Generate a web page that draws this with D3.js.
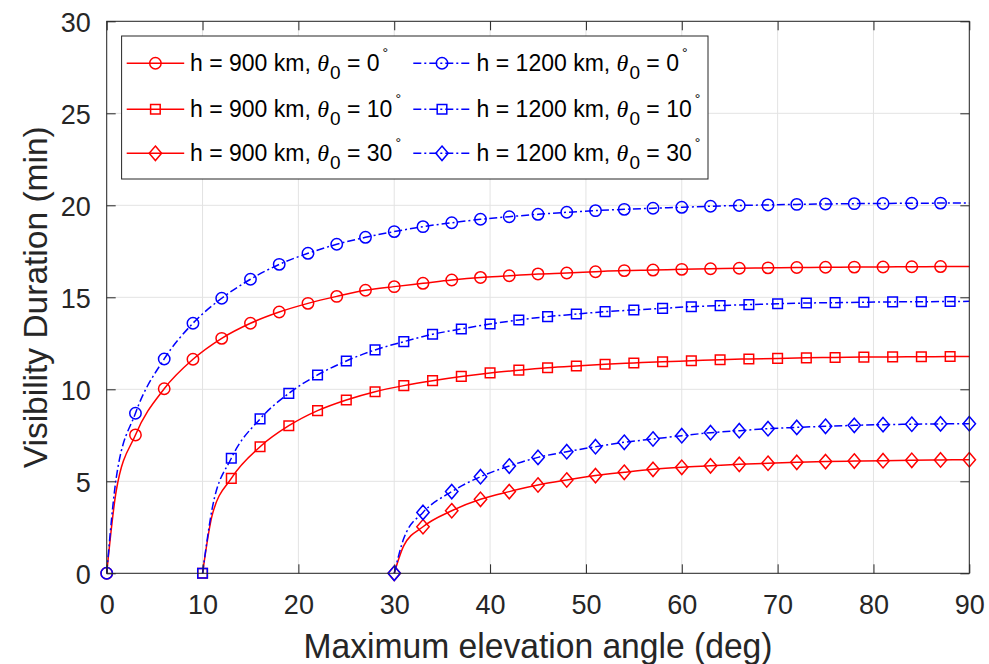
<!DOCTYPE html>
<html>
<head>
<meta charset="utf-8">
<script src="https://cdn.jsdelivr.net/npm/d3@7"></script>
<style>
  html, body { margin: 0; padding: 0; background: #fff; }
  svg { display: block; }
  text { font-family: "Liberation Sans", Arial, Helvetica, sans-serif; fill: #262626; }
</style>
</head>
<body>
<svg id="chart" width="989" height="664"></svg>
<script>
// Maximum elevation angle samples (deg) for each minimum elevation θ0
const anglesT0  = [0, 1, 3, 6, 9, 12, 15, 18, 21, 24, 27, 30, 33, 36, 39, 42, 45, 48, 51, 54, 57, 60, 63, 66, 69, 72, 75, 78, 81, 84, 87, 90];
const anglesT10 = [10, 11, 13, 16, 19, 22, 25, 28, 31, 34, 37, 40, 43, 46, 49, 52, 55, 58, 61, 64, 67, 70, 73, 76, 79, 82, 85, 88, 90];
const anglesT30 = [30, 31, 33, 36, 39, 42, 45, 48, 51, 54, 57, 60, 63, 66, 69, 72, 75, 78, 81, 84, 87, 90];

// Angles that carry a marker
const markersT0  = [0, 3, 6, 9, 12, 15, 18, 21, 24, 27, 30, 33, 36, 39, 42, 45, 48, 51, 54, 57, 60, 63, 66, 69, 72, 75, 78, 81, 84, 87];
const markersT10 = [10, 13, 16, 19, 22, 25, 28, 31, 34, 37, 40, 43, 46, 49, 52, 55, 58, 61, 64, 67, 70, 73, 76, 79, 82, 85, 88];
const markersT30 = [30, 33, 36, 39, 42, 45, 48, 51, 54, 57, 60, 63, 66, 69, 72, 75, 78, 81, 84, 87, 90];

// Visibility duration (min)
const h900T0   = [0, 4.5, 7.52, 10.03, 11.63, 12.77, 13.59, 14.20, 14.67, 15.05, 15.38, 15.58, 15.76, 15.94, 16.08, 16.17, 16.27, 16.32, 16.39, 16.45, 16.48, 16.52, 16.55, 16.58, 16.60, 16.62, 16.63, 16.64, 16.65, 16.66, 16.67, 16.68];
const h900T10  = [0, 3.15, 5.16, 6.88, 8.02, 8.84, 9.42, 9.87, 10.20, 10.47, 10.70, 10.89, 11.04, 11.17, 11.27, 11.36, 11.43, 11.50, 11.55, 11.61, 11.65, 11.68, 11.71, 11.73, 11.75, 11.76, 11.77, 11.78, 11.78];
const h900T30  = [0, 1.5, 2.53, 3.40, 4.02, 4.44, 4.80, 5.07, 5.31, 5.49, 5.65, 5.76, 5.84, 5.92, 5.98, 6.03, 6.07, 6.10, 6.12, 6.14, 6.16, 6.17];
const h1200T0  = [0, 5.2, 8.70, 11.65, 13.59, 14.95, 15.98, 16.79, 17.39, 17.88, 18.26, 18.57, 18.84, 19.05, 19.24, 19.38, 19.51, 19.62, 19.71, 19.78, 19.84, 19.89, 19.95, 19.99, 20.02, 20.05, 20.07, 20.09, 20.10, 20.11, 20.12, 20.13];
const h1200T10 = [0, 3.5, 6.25, 8.39, 9.78, 10.78, 11.54, 12.14, 12.59, 12.99, 13.28, 13.55, 13.77, 13.95, 14.09, 14.22, 14.31, 14.40, 14.49, 14.55, 14.60, 14.65, 14.69, 14.71, 14.73, 14.75, 14.76, 14.77, 14.78];
const h1200T30 = [0, 1.9, 3.31, 4.44, 5.25, 5.83, 6.30, 6.61, 6.88, 7.12, 7.30, 7.48, 7.64, 7.75, 7.86, 7.93, 7.99, 8.04, 8.08, 8.10, 8.12, 8.13];

const xTicks = [0, 10, 20, 30, 40, 50, 60, 70, 80, 90];
const yTicks = [0, 5, 10, 15, 20, 25, 30];

const series = [
  { label: ["900", "0"],   angles: anglesT0,  marks: markersT0,  values: h900T0,   color: "#ff0000", dash: null,      symbol: "circle" },
  { label: ["900", "10"],  angles: anglesT10, marks: markersT10, values: h900T10,  color: "#ff0000", dash: null,      symbol: "square" },
  { label: ["900", "30"],  angles: anglesT30, marks: markersT30, values: h900T30,  color: "#ff0000", dash: null,      symbol: "diamond" },
  { label: ["1200", "0"],  angles: anglesT0,  marks: markersT0,  values: h1200T0,  color: "#0000ff", dash: "8,3,2,3", symbol: "circle" },
  { label: ["1200", "10"], angles: anglesT10, marks: markersT10, values: h1200T10, color: "#0000ff", dash: "8,3,2,3", symbol: "square" },
  { label: ["1200", "30"], angles: anglesT30, marks: markersT30, values: h1200T30, color: "#0000ff", dash: "8,3,2,3", symbol: "diamond" }
];

const svg = d3.select("#chart");
const plotL = 106.7, plotR = 969.3, plotT = 21.3, plotB = 573.3;
const x = d3.scaleLinear().domain([0, 90]).range([plotL, plotR]);
const y = d3.scaleLinear().domain([0, 30]).range([plotB, plotT]);

// grid
const grid = svg.append("g").attr("stroke", "#e3e3e3").attr("stroke-width", 1);
grid.selectAll("line.gx").data(xTicks).join("line").attr("class", "gx")
  .attr("x1", d => x(d)).attr("x2", d => x(d)).attr("y1", plotT).attr("y2", plotB);
grid.selectAll("line.gy").data(yTicks).join("line").attr("class", "gy")
  .attr("y1", d => y(d)).attr("y2", d => y(d)).attr("x1", plotL).attr("x2", plotR);

// marker shapes
function markerPath(symbol) {
  if (symbol === "circle") return "M5.7,0A5.7,5.7 0 1,1 -5.7,0A5.7,5.7 0 1,1 5.7,0Z";
  if (symbol === "square") return "M-4.8,-4.8H4.8V4.8H-4.8Z";
  return "M0,-7.2L6.2,0L0,7.2L-6.2,0Z";
}

const line = d3.line().x(d => x(d[0])).y(d => y(d[1])).curve(d3.curveMonotoneX);

const plot = svg.append("g");
series.forEach(s => {
  const pts = s.angles.map((a, i) => [a, s.values[i]]);
  const lookup = new Map(pts);
  plot.append("path").datum(pts)
    .attr("d", line)
    .attr("fill", "none")
    .attr("stroke", s.color)
    .attr("stroke-width", 1.5)
    .attr("stroke-dasharray", s.dash);
  plot.append("g").selectAll("path").data(s.marks.map(a => [a, lookup.get(a)])).join("path")
    .attr("transform", d => `translate(${x(d[0])},${y(d[1])})`)
    .attr("d", markerPath(s.symbol))
    .attr("fill", "none")
    .attr("stroke", s.color)
    .attr("stroke-width", 1.5);
});

// axes with inward ticks on all four sides
const tickLen = 9;
const axStyle = g => {
  g.select(".domain").remove();
  g.selectAll(".tick line").attr("stroke", "#262626");
};
svg.append("g").attr("transform", `translate(0,${plotB})`)
  .call(d3.axisBottom(x).tickValues(xTicks).tickSizeInner(-tickLen).tickSizeOuter(0).tickPadding(0))
  .call(axStyle)
  .call(g => g.selectAll(".tick text").attr("y", 40.7).attr("dy", null)
    .attr("font-size", 27).attr("fill", "#262626").style("font-family", '"Liberation Sans", Arial, sans-serif'));
svg.append("g").attr("transform", `translate(${plotL},0)`)
  .call(d3.axisLeft(y).tickValues(yTicks).tickSizeInner(-tickLen).tickSizeOuter(0).tickPadding(0))
  .call(axStyle)
  .call(g => g.selectAll(".tick text").attr("x", -16).attr("dy", 10.5)
    .attr("font-size", 27).attr("fill", "#262626").style("font-family", '"Liberation Sans", Arial, sans-serif'));
svg.append("g").attr("transform", `translate(0,${plotT})`)
  .call(d3.axisTop(x).tickValues(xTicks).tickSizeInner(-tickLen).tickSizeOuter(0).tickFormat(""))
  .call(axStyle);
svg.append("g").attr("transform", `translate(${plotR},0)`)
  .call(d3.axisRight(y).tickValues(yTicks).tickSizeInner(-tickLen).tickSizeOuter(0).tickFormat(""))
  .call(axStyle);

svg.append("rect")
  .attr("x", plotL).attr("y", plotT).attr("width", plotR - plotL).attr("height", plotB - plotT)
  .attr("fill", "none").attr("stroke", "#262626").attr("stroke-width", 1);

// axis titles
svg.append("text")
  .attr("x", (plotL + plotR) / 2).attr("y", 658)
  .attr("text-anchor", "middle").attr("font-size", 35)
  .attr("textLength", 469).attr("lengthAdjust", "spacingAndGlyphs")
  .text("Maximum elevation angle (deg)");
svg.append("text")
  .attr("transform", `translate(47,${(plotT + plotB) / 2}) rotate(-90)`)
  .attr("text-anchor", "middle").attr("font-size", 34)
  .attr("textLength", 342).attr("lengthAdjust", "spacingAndGlyphs")
  .text("Visibility Duration (min)");

// legend
const legend = svg.append("g");
legend.append("rect")
  .attr("x", 121.6).attr("y", 36).attr("width", 708 - 121.6).attr("height", 179 - 36)
  .attr("fill", "#fff").attr("stroke", "#262626").attr("stroke-width", 1);
const rowY = [63.3, 109.3, 153.3];
const colX = [126.7, 413.3];
series.forEach((s, i) => {
  const cx = colX[Math.floor(i / 3)];
  const cy = rowY[i % 3];
  const item = legend.append("g");
  item.append("line")
    .attr("x1", cx).attr("x2", cx + 57.5).attr("y1", cy).attr("y2", cy)
    .attr("stroke", s.color).attr("stroke-width", 1.5).attr("stroke-dasharray", s.dash);
  item.append("path")
    .attr("transform", `translate(${cx + 28.7},${cy})`)
    .attr("d", markerPath(s.symbol))
    .attr("fill", "none").attr("stroke", s.color).attr("stroke-width", 1.5);
  const t = item.append("text").attr("x", cx + 63.3).attr("y", cy + 7.6).attr("font-size", 23).style("fill", "#000");
  t.append("tspan").text(`h = ${s.label[0]} km, `);
  t.append("tspan").attr("font-style", "italic").style("font-family", '"Liberation Serif", "Times New Roman", serif').attr("font-size", 24).text("θ");
  t.append("tspan").attr("font-size", 19).attr("dy", 8).attr("dx", 1).text("0");
  t.append("tspan").attr("dy", -8).text(` = ${s.label[1]}`);
  t.append("tspan").attr("font-size", 14).attr("dy", -13).attr("dx", 3).text("°");
});
</script>
</body>
</html>
